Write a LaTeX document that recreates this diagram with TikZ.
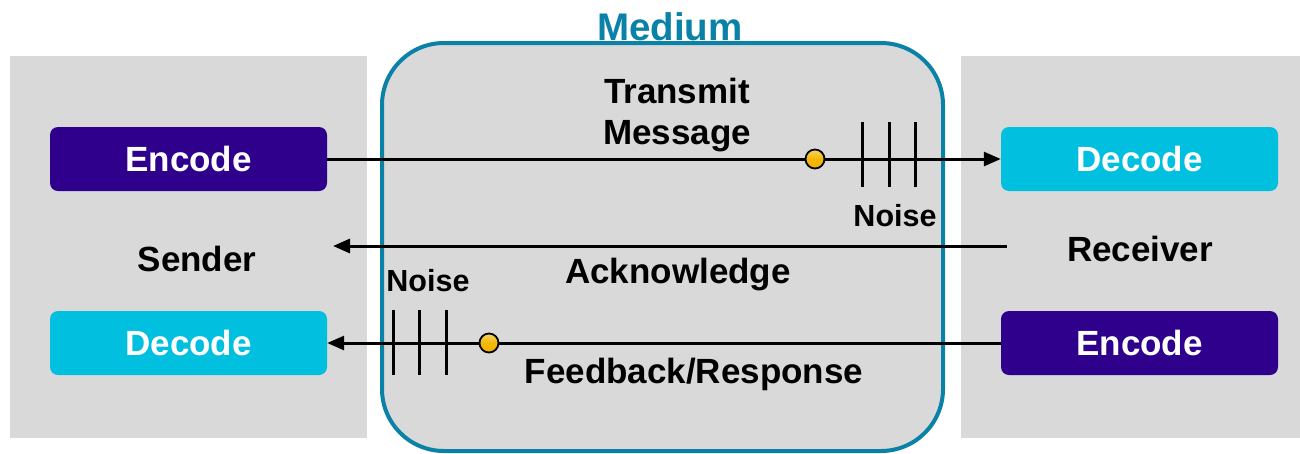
\documentclass[tikz,border=0pt]{standalone}
\usepackage{fontspec}
\setmainfont{Liberation Sans}
\usetikzlibrary{arrows.meta}
\definecolor{panelgray}{HTML}{D9D9D9}
\definecolor{mediumteal}{HTML}{0A82A8}
\definecolor{encpurple}{HTML}{2E008B}
\definecolor{deccyan}{HTML}{00BFDF}
\definecolor{ballyellow}{HTML}{F2B705}
\begin{document}
\begin{tikzpicture}[x=1pt,y=-1pt,
  panel/.style={fill=panelgray,draw=none},
  btn/.style={rounded corners=8pt,minimum width=277pt,minimum height=64pt,inner sep=0pt,
    text=white,font=\fontsize{35}{40}\selectfont\bfseries},
  encbox/.style={btn,fill=encpurple},
  decbox/.style={btn,fill=deccyan},
  lbl/.style={font=\fontsize{35}{41}\selectfont\bfseries,align=center,inner sep=0pt},
  noiselbl/.style={font=\fontsize{30.5}{34}\selectfont\bfseries,inner sep=0pt},
  flow/.style={line width=3pt,-{Triangle[length=17pt,width=14pt]}},
  bar/.style={line width=3pt},
  ballst/.style={circle,minimum size=19pt,inner sep=0pt,draw=black,line width=1.8pt,
    top color=ballyellow!60!white,bottom color=ballyellow!90!orange,middle color=ballyellow}
]
\useasboundingbox (0,0) rectangle (1300,453);
\fill[white] (0,0) rectangle (1300,453);
% panels
\path[panel] (10,56) rectangle (367,438);
\path[panel] (961,56) rectangle (1300,438);
\draw[fill=panelgray,draw=mediumteal,line width=4pt,rounded corners=62pt] (382,43) rectangle (943,451);
\node[font=\fontsize{38.5}{44}\selectfont\bfseries,text=mediumteal,inner sep=0pt] (medium) at (670,27) {Medium};
% boxes
\node[encbox] (encL) at (188.5,159) {Encode};
\node[decbox] (decL) at (188.5,343) {Decode};
\node[decbox] (decR) at (1139.5,159) {Decode};
\node[encbox] (encR) at (1139.5,343) {Encode};
% labels
\node[lbl] (sender) at (197,259) {Sender};
\node[lbl] (receiver) at (1140,249) {Receiver};
\node[lbl] (transmit) at (677,115) {Transmit\\Message};
\node[lbl] (ack) at (678,275) {Acknowledge};
\node[lbl] (feedback) at (694,374) {Feedback/Response};
\node[noiselbl] (noiseT) at (895,216) {Noise};
\node[noiselbl] (noiseB) at (428,281) {Noise};
% top arrow
\draw[flow] (encL.east) -- (decR.west);
\foreach \x in {862,889,915} {\draw[bar] (\x,122) -- (\x,187);}
\node[ballst] (ballT) at (815,159) {};
% acknowledge arrow
\coordinate (ackS) at (1007,246);
\coordinate (ackE) at (333,246);
\draw[flow] (ackS) -- (ackE);
% bottom arrow
\draw[flow] (encR.west) -- (decL.east);
\foreach \x in {393,419,446} {\draw[bar] (\x,310) -- (\x,375);}
\node[ballst] (ballB) at (489,343) {};
\end{tikzpicture}
\end{document}
